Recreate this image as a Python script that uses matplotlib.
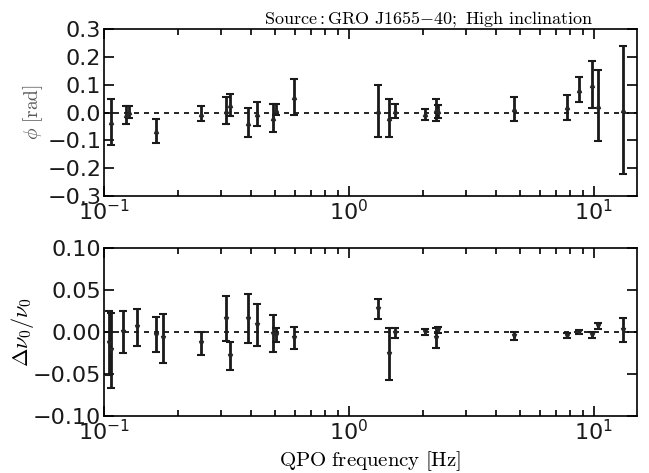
import matplotlib
matplotlib.use('Agg')
import matplotlib.pyplot as plt
from matplotlib.ticker import FixedLocator

plt.rcParams['mathtext.fontset'] = 'cm'
plt.rcParams['font.family'] = 'DejaVu Sans'

# phase lag panel
freq_phi = [0.107, 0.123, 0.127, 0.163, 0.249, 0.316, 0.326, 0.387, 0.423, 0.491, 0.505, 0.596,
            1.31, 1.46, 1.54, 2.05, 2.26, 2.32, 4.74, 7.74, 8.69, 9.78, 10.4, 13.2]
phi = [-0.035, -0.008, 0.002, -0.068, -0.005, 0.007, 0.027, -0.036, -0.005, -0.02, 0.01, 0.055,
       0.006, -0.02, 0.004, -0.006, 0.01, 0.004, 0.012, 0.019, 0.082, 0.1, 0.025, 0.01]
phi_err = [0.083, 0.032, 0.02, 0.043, 0.027, 0.048, 0.04, 0.052, 0.043, 0.05, 0.02, 0.064,
           0.094, 0.068, 0.025, 0.02, 0.04, 0.022, 0.043, 0.045, 0.045, 0.084, 0.128, 0.23]

# frequency shift panel
freq_dnu = [0.1045, 0.107, 0.12, 0.136, 0.163, 0.174, 0.249, 0.316, 0.326, 0.387, 0.423, 0.491,
            0.505, 0.596, 1.31, 1.46, 1.54, 2.05, 2.26, 2.32, 4.74, 7.74, 8.69, 9.78, 10.4, 13.2]
dnu = [-0.0135, -0.022, 0.0, 0.0055, -0.003, -0.0075, -0.0135, 0.016, -0.0285, 0.016, 0.008, -0.002,
       -0.0035, -0.0067, 0.027, -0.026, -0.0016, 0.0, -0.0075, 0.0024, -0.005, -0.0044, 0.0, -0.0035,
       0.0075, 0.0024]
dnu_err = [0.038, 0.045, 0.025, 0.022, 0.021, 0.029, 0.014, 0.027, 0.017, 0.029, 0.025, 0.022,
           0.008, 0.013, 0.012, 0.031, 0.006, 0.0035, 0.012, 0.003, 0.0045, 0.003, 0.002, 0.004,
           0.0035, 0.014]

fig = plt.figure(figsize=(6.49, 4.73), dpi=100)
ax1 = fig.add_axes([104 / 649, 1 - 196 / 473, 533 / 649, 167 / 473])
ax2 = fig.add_axes([104 / 649, 1 - 416 / 473, 533 / 649, 168 / 473])


def style_axis(ax):
    ax.set_xscale('log')
    ax.set_xlim(0.1, 15)
    ax.tick_params(which='both', direction='in', top=True, right=True, labelsize=16,
                   width=1.2, pad=2, labelcolor='0.1')
    ax.tick_params(which='major', length=7)
    ax.tick_params(which='minor', length=4)
    ax.axhline(0, color='black', ls='--', lw=1.2, dashes=(3, 3), zorder=1)
    for s in ax.spines.values():
        s.set_linewidth(1.2)


ax1.errorbar(freq_phi, phi, yerr=phi_err, fmt='^', ms=3, color='0.15', ecolor='0.1',
             elinewidth=2, capsize=3, capthick=1.5)
style_axis(ax1)
ax1.set_ylim(-0.3, 0.3)
ax1.yaxis.set_major_locator(FixedLocator([-0.3, -0.2, -0.1, 0.0, 0.1, 0.2, 0.3]))
ax1.set_ylabel(r'$\phi\ \mathrm{[rad]}$', fontsize=14, color='0.35')
ax1.yaxis.set_label_coords(-0.11, 0.5)
ax1.set_title(r'$\mathrm{Source:GRO\ J1655{-}40;\ High\ inclination}$', fontsize=13,
              x=0.608, pad=4)

ax2.errorbar(freq_dnu, dnu, yerr=dnu_err, fmt='v', ms=3, color='0.15', ecolor='0.1',
             elinewidth=2, capsize=3, capthick=1.5)
style_axis(ax2)
ax2.set_ylim(-0.1, 0.1)
ax2.yaxis.set_major_locator(FixedLocator([-0.1, -0.05, 0.0, 0.05, 0.1]))
ax2.set_ylabel(r'$\Delta\nu_0/\nu_0$', fontsize=16)
ax2.yaxis.set_label_coords(-0.127, 0.5)
ax2.set_xlabel(r'$\mathrm{QPO\ frequency\ [Hz]}$', fontsize=15)
ax2.xaxis.set_label_coords(0.5, -0.2)

fig.savefig('out.png', dpi=100)
